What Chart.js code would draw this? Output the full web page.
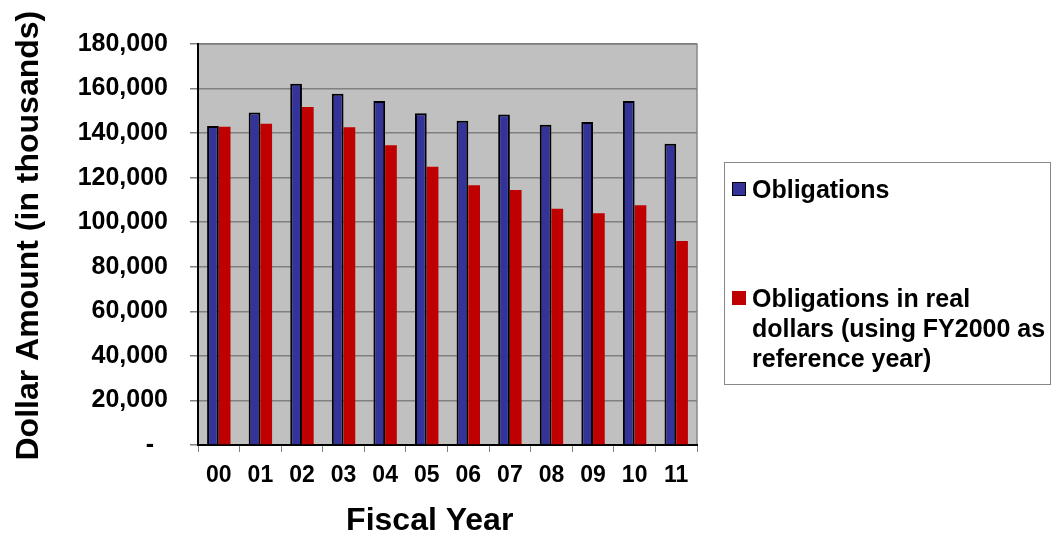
<!DOCTYPE html>
<html>
<head>
<meta charset="utf-8">
<script src="https://cdn.jsdelivr.net/npm/chart.js@4"></script>
<style>
    body { margin: 0; background: #fff; }
    .wrap { position: relative; width: 1056px; height: 537px; font-family: "Liberation Sans", Arial, sans-serif; }
    .legend-box {
        position: absolute; left: 724px; top: 162px; width: 327px; height: 223px;
        border: 1px solid #888; box-sizing: border-box; background: #fff;
    }
    .legend-item { position: absolute; left: 7px; display: flex; align-items: flex-start; }
    .legend-item .swatch { width: 14px; height: 14px; margin-top: 8px; margin-right: 6px; box-sizing: border-box; flex: none; }
    .legend-item .text { font-weight: bold; font-size: 25px; line-height: 30px; color: #000; }
</style>
</head>
<body>
<div class="wrap">
    <canvas id="myChart" width="1056" height="537"></canvas>
    <div class="legend-box" id="legend"></div>
</div>
<script>
const years = ['00', '01', '02', '03', '04', '05', '06', '07', '08', '09', '10', '11'];
const obligations = [143200, 149200, 162200, 157700, 154400, 148900, 145600, 148300, 143800, 145000, 154400, 135200];
const realDollars = [142900, 144200, 151700, 142600, 134500, 124900, 116600, 114500, 106100, 104000, 107600, 91600];
const seriesNames = ['Obligations', 'Obligations in real dollars (using FY2000 as reference year)'];

const fontFamily = '"Liberation Sans", Arial, sans-serif';

// gray plot background with a thin frame on top and right
const plotBg = {
    id: 'plotBg',
    beforeDraw(chart) {
        const { ctx, chartArea: a } = chart;
        ctx.save();
        ctx.fillStyle = '#c0c0c0';
        ctx.fillRect(a.left, a.top, a.right - a.left, a.bottom - a.top);
        ctx.strokeStyle = '#888';
        ctx.lineWidth = 1.5;
        ctx.beginPath();
        ctx.moveTo(a.left, a.top);
        ctx.lineTo(a.right, a.top);
        ctx.lineTo(a.right, a.bottom);
        ctx.stroke();
        ctx.restore();
    }
};

const ctx = document.getElementById('myChart');
const myChart = new Chart(ctx, {
    type: 'bar',
    data: {
        labels: years,
        datasets: [{
            label: seriesNames[0],
            data: obligations,
            backgroundColor: '#333399',
            borderColor: '#000',
            borderWidth: 2,
            borderSkipped: 'bottom'
        }, {
            label: seriesNames[1],
            data: realDollars,
            backgroundColor: '#c00000',
            borderWidth: 0
        }]
    },
    options: {
        responsive: false,
        animation: false,
        layout: { padding: { left: 0, right: 359, top: 44, bottom: 0 } },
        datasets: { bar: { barPercentage: 1, categoryPercentage: 0.563 } },
        plugins: {
            legend: { display: false },
            tooltip: { enabled: false }
        },
        scales: {
            x: {
                afterFit(scale) { scale.height = 92; },
                border: { color: '#000', width: 2 },
                grid: { drawOnChartArea: false, offset: true, tickLength: 7, color: '#808080' },
                ticks: { color: '#000', padding: 10, font: { family: fontFamily, size: 23, weight: 'bold' } },
                title: {
                    display: true,
                    // trailing spaces nudge the centred title a little to the left
                    text: 'Fiscal Year    ',
                    color: '#000',
                    padding: { top: 0, bottom: 0 },
                    font: { family: fontFamily, size: 32, weight: 'bold', lineHeight: 1.0 }
                }
            },
            y: {
                min: 0,
                max: 180000,
                afterFit(scale) { scale.width = 198; },
                border: { color: '#000', width: 2 },
                grid: { color: '#808080', lineWidth: 1.5, tickLength: 8 },
                ticks: {
                    stepSize: 20000,
                    color: '#000',
                    padding: 22,
                    font: { family: fontFamily, size: 25, weight: 'bold' },
                    callback: (v) => v === 0 ? '-  ' : v.toLocaleString('en-US')
                },
                title: {
                    display: true,
                    text: '  Dollar Amount (in thousands)',
                    color: '#000',
                    padding: { top: 10, bottom: 0 },
                    font: { family: fontFamily, size: 32, weight: 'bold', lineHeight: 1.2 }
                }
            }
        }
    },
    plugins: [plotBg]
});

// legend built from the datasets
const legendEl = document.getElementById('legend');
const legendTops = [11, 120];
myChart.data.datasets.forEach((ds, i) => {
    const item = document.createElement('div');
    item.className = 'legend-item';
    item.style.top = legendTops[i] + 'px';
    item.style.width = '322px';
    const sw = document.createElement('span');
    sw.className = 'swatch';
    sw.style.background = ds.backgroundColor;
    if (ds.borderWidth) sw.style.border = '1px solid #000';
    const txt = document.createElement('span');
    txt.className = 'text';
    txt.textContent = ds.label;
    item.appendChild(sw);
    item.appendChild(txt);
    legendEl.appendChild(item);
});
</script>
</body>
</html>
